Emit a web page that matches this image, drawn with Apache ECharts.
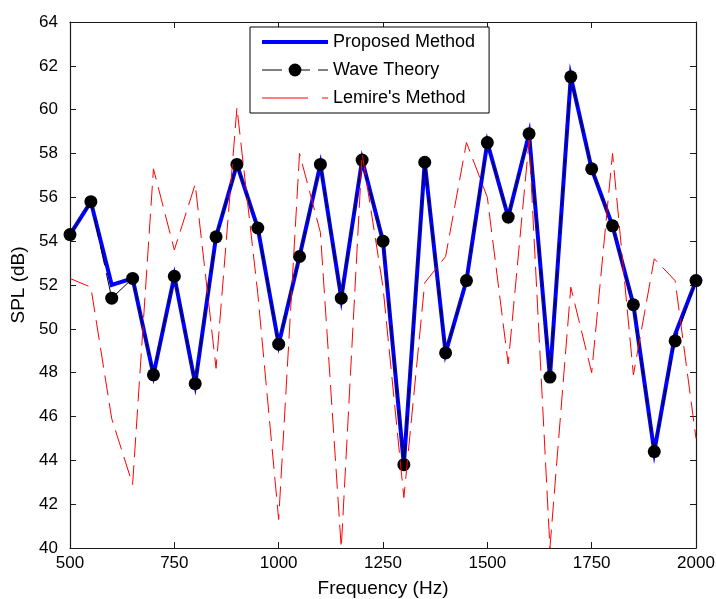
<!DOCTYPE html>
<html>
<head>
<meta charset="utf-8">
<script src="https://cdn.jsdelivr.net/npm/echarts@6/dist/echarts.min.js"></script>
<style>
html,body{margin:0;padding:0;background:#fff;}
#chart{width:716px;height:599px;}
</style>
</head>
<body>
<div id="chart"></div>
<script>
var frequencies = [500, 550, 600, 650, 700, 750, 800, 850, 900, 950, 1000, 1050, 1100, 1150, 1200, 1250, 1300, 1350, 1400, 1450, 1500, 1550, 1600, 1650, 1700, 1750, 1800, 1850, 1900, 1950, 2000];
var proposedMethod = [54.3, 55.8, 52.0, 52.3, 47.9, 52.4, 47.5, 54.2, 57.5, 54.6, 49.3, 53.3, 57.5, 51.4, 57.7, 54.0, 43.8, 57.6, 48.9, 52.2, 58.5, 55.1, 58.9, 47.8, 61.5, 57.3, 54.7, 51.1, 44.4, 49.75, 52.2];
var waveTheory = [54.3, 55.8, 51.4, 52.3, 47.9, 52.4, 47.5, 54.2, 57.5, 54.6, 49.3, 53.3, 57.5, 51.4, 57.7, 54.0, 43.8, 57.6, 48.9, 52.2, 58.5, 55.1, 58.9, 47.8, 61.5, 57.3, 54.7, 51.1, 44.4, 49.45, 52.2];
var lemireMethod = [52.3, 51.9, 45.9, 42.9, 57.3, 53.6, 56.6, 48.2, 60.1, 51.6, 41.3, 58.0, 54.4, 40.0, 58.0, 51.9, 42.3, 52.1, 53.3, 58.5, 56.0, 48.4, 58.6, 40.0, 51.9, 48.0, 58.0, 47.9, 53.2, 52.2, 45.0];
var seriesNames = ['Proposed Method', 'Wave Theory', "Lemire's Method"];
var xTicks = [500, 750, 1000, 1250, 1500, 1750, 2000];
var yTicks = [40, 42, 44, 46, 48, 50, 52, 54, 56, 58, 60, 62, 64];

function pairs(vals) {
  return frequencies.map(function (f, i) { return [f, vals[i]]; });
}

var FONT = '"Liberation Sans", Arial, Helvetica, sans-serif';
var axisCol = '#1a1a1a';
var DASH = [20, 8];

var chart = echarts.init(document.getElementById('chart'), null, {renderer: 'canvas'});
var baseX = {
  type: 'value', min: xTicks[0], max: xTicks[xTicks.length - 1], interval: 250,
  axisLine: {show: true, onZero: false, lineStyle: {color: axisCol, width: 1.2}},
  axisTick: {show: true, inside: true, length: 6, lineStyle: {color: axisCol}},
  splitLine: {show: false}
};
var baseY = {
  type: 'value', min: yTicks[0], max: yTicks[yTicks.length - 1], interval: 2,
  axisLine: {show: true, onZero: false, lineStyle: {color: axisCol, width: 1.2}},
  axisTick: {show: true, inside: true, length: 6, lineStyle: {color: axisCol}},
  splitLine: {show: false}
};

chart.setOption({
  animation: false,
  backgroundColor: '#fff',
  grid: {left: 70, right: 20, top: 22, bottom: 51, containLabel: false, outerBoundsMode: 'none'},
  xAxis: [
    Object.assign({}, baseX, {
      position: 'bottom',
      name: 'Frequency (Hz)', nameLocation: 'middle', nameGap: 31,
      nameTextStyle: {fontFamily: FONT, fontSize: 19, color: '#000'},
      axisLabel: {show: true, margin: 7, fontFamily: FONT, fontSize: 17, color: '#000',
        formatter: function (v) { return String(v); }}
    }),
    Object.assign({}, baseX, {position: 'top', axisLabel: {show: false}})
  ],
  yAxis: [
    Object.assign({}, baseY, {
      position: 'left',
      name: 'SPL (dB)', nameLocation: 'middle', nameGap: 38, nameRotate: 90,
      nameTextStyle: {fontFamily: FONT, fontSize: 19, color: '#000'},
      axisLabel: {show: true, margin: 12, fontFamily: FONT, fontSize: 17, color: '#000'}
    }),
    Object.assign({}, baseY, {position: 'right', axisLabel: {show: false}})
  ],
  legend: {
    orient: 'vertical', left: 250, top: 27,
    backgroundColor: '#fff', borderColor: '#000', borderWidth: 1,
    padding: [6, 14, 6, 10], itemGap: 10, itemWidth: 66, itemHeight: 16,
    textStyle: {fontFamily: FONT, fontSize: 18, color: '#000', lineHeight: 18},
    data: [
      {name: seriesNames[0], itemStyle: {opacity: 0}, lineStyle: {width: 4, color: '#0000ff', type: 'solid'}},
      {name: seriesNames[1], lineStyle: {width: 1, color: '#000', type: DASH}},
      {name: seriesNames[2], itemStyle: {opacity: 0}, lineStyle: {width: 1, color: '#ff0000', type: [46, 14]}}
    ]
  },
  series: [
    {
      name: seriesNames[0], type: 'line', data: pairs(proposedMethod),
      symbol: 'none', lineStyle: {color: '#0000ff', width: 4, join: 'miter'},
      itemStyle: {color: '#0000ff'}, z: 2
    },
    {
      name: seriesNames[1], type: 'line', data: pairs(waveTheory),
      symbol: 'circle', symbolSize: 13,
      lineStyle: {color: '#000', width: 1, type: DASH},
      itemStyle: {color: '#000'}, z: 3
    },
    {
      name: seriesNames[2], type: 'line', data: pairs(lemireMethod),
      symbol: 'none', lineStyle: {color: '#ff0000', width: 1, type: DASH},
      itemStyle: {color: '#ff0000'}, z: 4
    }
  ]
});
</script>
</body>
</html>
